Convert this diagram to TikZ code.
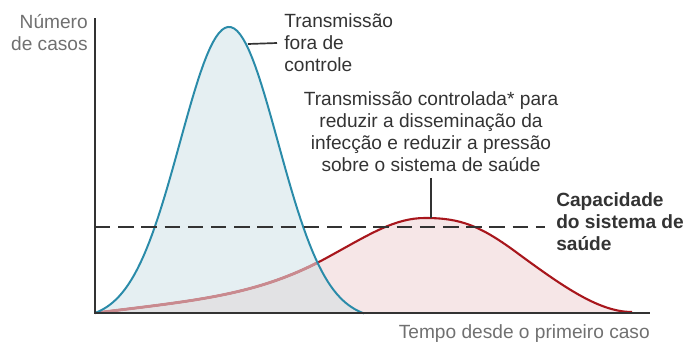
\documentclass[tikz,border=0pt]{standalone}
\usepackage{fontspec}
\setmainfont{Liberation Sans}
\definecolor{azul}{HTML}{2A8BA9}
\definecolor{azulclaro}{HTML}{E5EFF2}
\definecolor{vermelho}{HTML}{A8161C}
\definecolor{rosa}{HTML}{F6E6E7}
\definecolor{rosalinha}{HTML}{C98A8F}
\definecolor{cinza}{HTML}{E2E2E4}
\definecolor{escuro}{HTML}{333333}
\definecolor{texto}{HTML}{707070}
\begin{document}
\begin{tikzpicture}[x=0.025cm, y=-0.025cm, font=\fontsize{13.6}{15.6}\selectfont]
\useasboundingbox (0,0) rectangle (686,343);
\fill[azulclaro] plot[domain=95:364, samples=90] (\x, {313-293*(exp(-((\x-229)/49)^2/2)-0.0238)}) -- cycle;
\fill[rosa] (95,313) .. controls (200,300) and (260,295) .. (330,256) .. controls (370,234) and (395,218) .. (425,218) .. controls (460,218) and (480,225) .. (520,255) .. controls (565,288) and (600,312) .. (632,312) -- cycle;
\begin{scope}
\clip plot[domain=95:364, samples=90] (\x, {313-293*(exp(-((\x-229)/49)^2/2)-0.0238)}) -- cycle;
\fill[cinza] (95,313) .. controls (200,300) and (260,295) .. (330,256) .. controls (370,234) and (395,218) .. (425,218) -- (425,313) -- cycle;
\end{scope}
\draw[vermelho, line width=1.5pt] (95,313) .. controls (200,300) and (260,295) .. (330,256) .. controls (370,234) and (395,218) .. (425,218) .. controls (460,218) and (480,225) .. (520,255) .. controls (565,288) and (600,312) .. (632,312);
\begin{scope}
\clip plot[domain=95:364, samples=90] (\x, {313-293*(exp(-((\x-229)/49)^2/2)-0.0238)}) -- cycle;
\draw[rosalinha, line width=2pt] (95,313) .. controls (200,300) and (260,295) .. (330,256);
\end{scope}
\draw[azul, line width=1.4pt] plot[domain=95:364, samples=90] (\x, {313-293*(exp(-((\x-229)/49)^2/2)-0.0238)});

\node[anchor=west, align=left, inner xsep=5pt, inner ysep=0pt, text=escuro] (fora) at (277,43) {Transmissão\\fora de\\controle};
\node[align=center, inner xsep=0pt, inner ysep=4pt, text=escuro] (controlada) at (431,132) {Transmissão controlada* para\\reduzir a disseminação da\\infecção e reduzir a pressão\\sobre o sistema de saúde};
\node[anchor=west, align=left, inner sep=0pt, text=escuro, font=\fontsize{13.6}{15.6}\selectfont\bfseries] (capacidade) at (556,222) {Capacidade\\do sistema de\\saúde};
\node[anchor=east, align=right, inner sep=0pt, text=texto] (numero) at (88,33) {Número\\de casos};
\node[anchor=east, inner sep=0pt, text=texto] (tempo) at (650,334) {Tempo desde o primeiro caso};

\coordinate (picoazul) at (248,44);
\coordinate (picovermelho) at (431,218);
\coordinate (topo) at (95,18);
\coordinate (origem) at (95,313);
\coordinate (fim) at (650,313);
\coordinate (cap) at (95,227);

\draw[escuro, line width=1.2pt] (picoazul) -- (fora.west);
\draw[escuro, line width=1.2pt] (controlada.south) -- (picovermelho);
\draw[escuro, line width=1.6pt, dash pattern=on 11pt off 5.5pt] (cap) -- (cap -| capacidade.west) [shorten >=8pt];
\draw[escuro, line width=1.8pt] (topo) -- (origem) -- (fim);
\end{tikzpicture}
\end{document}
